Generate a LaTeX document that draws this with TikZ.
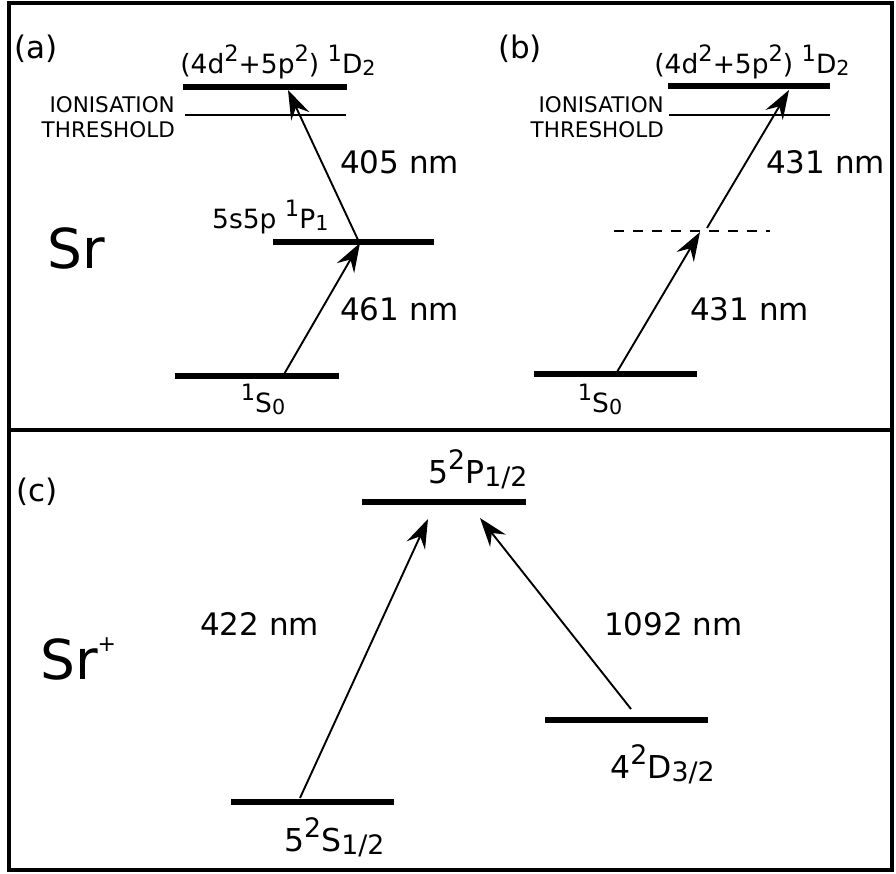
\documentclass[tikz,border=0pt]{standalone}
\usepackage{fontspec}
\setmainfont{DejaVu Sans}
\usetikzlibrary{arrows.meta}
\newcommand\myup[1]{\raisebox{0.42em}{\scalebox{0.85}{#1}}}
\newcommand\mydn[1]{\raisebox{-0.1em}{\scalebox{0.78}{#1}}}
\newcommand\mydnb[1]{\raisebox{-0.12em}{\scalebox{0.85}{#1}}}
\tikzset{
  level/.style={line width=6.5pt},
  thr/.style={line width=1.5pt},
  frame/.style={line width=4pt},
  arr/.style={line width=1.9pt,-{Stealth[length=29pt,width=20pt,inset=10pt]}},
  txt/.style={inner sep=0pt,font=\fontsize{31}{36}\selectfont},
  lvl/.style={inner sep=0pt,font=\fontsize{31.5}{36}\selectfont},
  lab/.style={inner sep=0pt,font=\fontsize{26.5}{30}\selectfont},
  ion/.style={inner sep=0pt,align=right,font=\fontsize{21.5}{25}\selectfont},
  big/.style={inner sep=0pt,font=\fontsize{55}{60}\selectfont},
}
\begin{document}
\begin{tikzpicture}[x=1pt,y=-1pt]
\useasboundingbox (0,0) rectangle (896,873);
% frames
\draw[frame] (9,3) rectangle (892,870);
\draw[frame] (9,430) -- (892,430);

% ---------- panel (a)
\node[txt,anchor=base] (la) at (36,58) {(a)};
\draw[level] (183,87) -- (347,87);
\draw[thr] (185,115) -- (346,115);
\draw[level] (273,242) -- (434,242);
\draw[level] (175,376) -- (339,376);
\node[lab,anchor=base] (aD) at (278,73) {(4d\myup{2}+5p\myup{2}) \myup{1}D\mydn{2}};
\node[ion,anchor=base east] (aion1) at (175,112) {IONISATION};
\node[ion,anchor=base east] (aion2) at (175,137) {THRESHOLD};
\node[lab,anchor=base west] (aP) at (212,228) {5s5p \myup{1}P\mydn{1}};
\node[lab,anchor=base] (aS) at (263,412) {\myup{1}S\mydn{0}};
\node[big,anchor=base west] (aSr) at (47,268) {Sr};
\node[txt,anchor=base west] (a405) at (340,173) {405 nm};
\node[txt,anchor=base west] (a461) at (340,320) {461 nm};
\coordinate (a1s) at (283,376);
\coordinate (a1e) at (360,243);
\coordinate (a2s) at (359,242);
\coordinate (a2e) at (288,90);
\draw[arr] (a1s) -- (a1e);
\draw[arr] (a2s) -- (a2e);

% ---------- panel (b)
\node[txt,anchor=base] (lb) at (520,58) {(b)};
\draw[level] (668,86) -- (830,86);
\draw[thr] (669,115) -- (830,115);
\draw[line width=2.5pt,dash pattern=on 10pt off 9pt] (614,231) -- (770,231);
\draw[level] (534,374) -- (697,374);
\node[lab,anchor=base] (bD) at (752,73) {(4d\myup{2}+5p\myup{2}) \myup{1}D\mydn{2}};
\node[ion,anchor=base east] (bion1) at (664,112) {IONISATION};
\node[ion,anchor=base east] (bion2) at (664,137) {THRESHOLD};
\node[lab,anchor=base] (bS) at (600,412) {\myup{1}S\mydn{0}};
\node[txt,anchor=base west] (b431u) at (766,173) {431 nm};
\node[txt,anchor=base west] (b431l) at (690,320) {431 nm};
\coordinate (b1s) at (617,372);
\coordinate (b1e) at (700,232);
\coordinate (b2s) at (707,228);
\coordinate (b2e) at (789,90);
\draw[arr] (b1s) -- (b1e);
\draw[arr] (b2s) -- (b2e);

% ---------- panel (c)
\node[txt,anchor=base] (lc) at (37,501) {(c)};
\draw[level] (362,502) -- (526,502);
\draw[level] (231,802) -- (394,802);
\draw[level] (545,720) -- (708,720);
\node[lvl,anchor=base west] (cP) at (428,483) {5\myup{2}P\mydnb{1/2}};
\node[lvl,anchor=base west] (cS) at (284,851) {5\myup{2}S\mydnb{1/2}};
\node[lvl,anchor=base west] (cD) at (610,778) {4\myup{2}D\mydnb{3/2}};
\node[big,anchor=base west] (cSr) at (40,679) {Sr\raisebox{0.5em}{\scalebox{0.4}{+}}};
\node[txt,anchor=base west] (c422) at (200,635) {422 nm};
\node[txt,anchor=base west] (c1092) at (604,635) {1092 nm};
\coordinate (c1s) at (300,798);
\coordinate (c1e) at (428,519);
\coordinate (c2s) at (631,709);
\coordinate (c2e) at (480,518);
\draw[arr] (c1s) -- (c1e);
\draw[arr] (c2s) -- (c2e);
\end{tikzpicture}
\end{document}
